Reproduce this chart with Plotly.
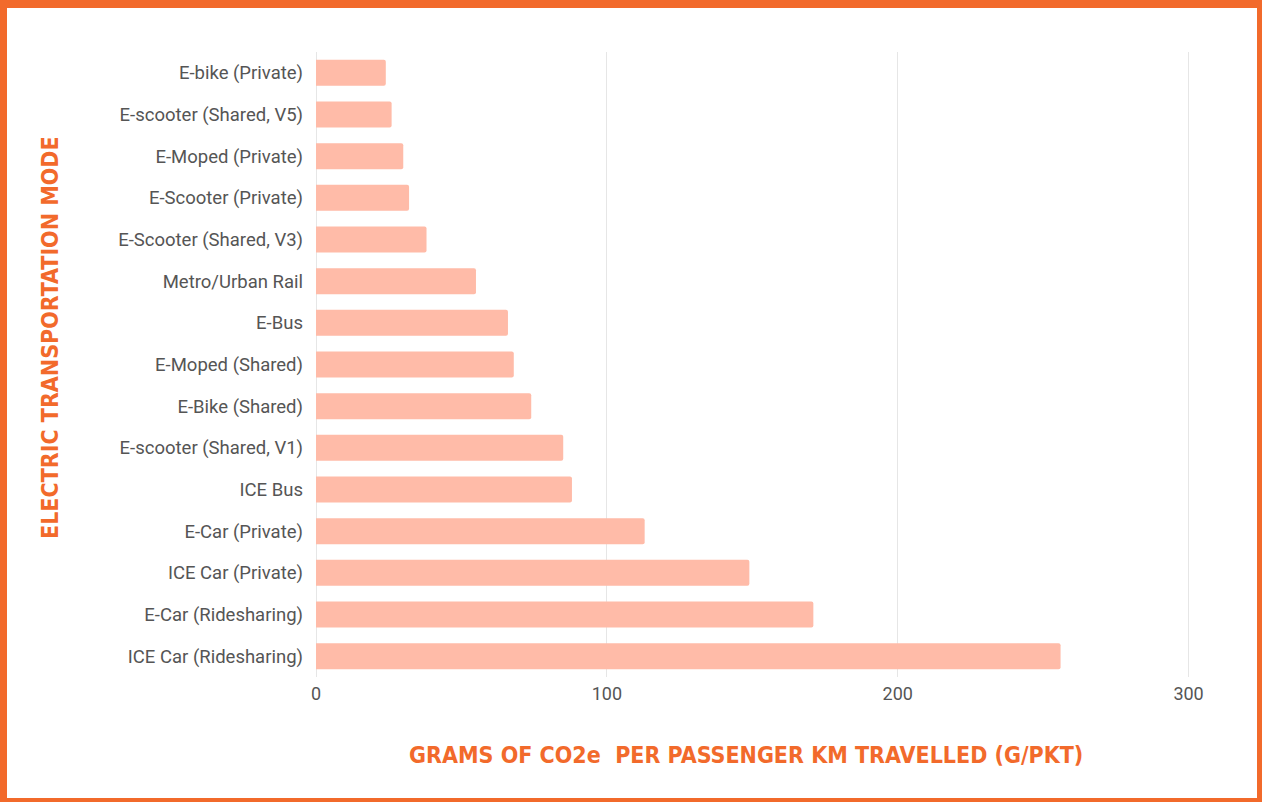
import plotly.graph_objects as go

categories = [
    "E-bike (Private)", "E-scooter (Shared, V5)", "E-Moped (Private)", "E-Scooter (Private)",
    "E-Scooter (Shared, V3)", "Metro/Urban Rail", "E-Bus", "E-Moped (Shared)",
    "E-Bike (Shared)", "E-scooter (Shared, V1)", "ICE Bus", "E-Car (Private)",
    "ICE Car (Private)", "E-Car (Ridesharing)", "ICE Car (Ridesharing)",
]
values = [24, 26, 30, 32, 38, 55, 66, 68, 74, 85, 88, 113, 149, 171, 256]
x_ticks = [0, 100, 200, 300]

ORANGE = "#F26A2B"
BAR = "#FFBBA8"

W, H = 1262, 802
ML, MR, MT, MB = 316, 72, 52, 125
PW, PH = W - ML - MR, H - MT - MB

def px(x):
    return (x - ML) / PW

def py(y):
    return (H - MB - y) / PH

fig = go.Figure(go.Bar(
    x=values, y=categories, orientation="h",
    marker=dict(color=BAR, cornerradius=2, line=dict(width=0)),
    hoverinfo="x+y",
))

TITLE_FONT = "Liberation Sans Narrow, DejaVu Sans Condensed, sans-serif"

fig.update_layout(
    width=W, height=H,
    margin=dict(l=ML, r=MR, t=MT, b=MB),
    paper_bgcolor=ORANGE, plot_bgcolor="white",
    bargap=0.375,
    showlegend=False,
    font=dict(family="Roboto, sans-serif", size=18, color="#555555"),
    xaxis=dict(range=[0, 300.5], tickvals=x_ticks, showgrid=True, gridcolor="#e6e6e6",
               gridwidth=1, zeroline=True, zerolinecolor="#e6e6e6", zerolinewidth=1,
               showline=False, ticks="", ticklabelstandoff=4,
               tickfont=dict(size=18, color="#555555")),
    yaxis=dict(categoryorder="array", categoryarray=categories, autorange="reversed",
               showgrid=False, showline=False, ticks="", ticklabelstandoff=12,
               tickfont=dict(size=18.5, color="#555555")),
    shapes=[dict(type="rect", xref="paper", yref="paper", layer="below",
                 x0=px(7), x1=px(1257), y0=py(798), y1=py(8),
                 fillcolor="white", line=dict(width=0))],
    annotations=[
        dict(text="GRAMS OF CO2e  PER PASSENGER KM TRAVELLED (G/PKT)", xref="paper", yref="paper",
             x=px(746), y=py(755), xanchor="center", yanchor="middle", showarrow=False,
             font=dict(family=TITLE_FONT, size=23, color=ORANGE, weight="bold")),
        dict(text="ELECTRIC TRANSPORTATION MODE", xref="paper", yref="paper",
             x=px(50), y=py(338), xanchor="center", yanchor="middle", showarrow=False,
             textangle=-90,
             font=dict(family=TITLE_FONT, size=23, color=ORANGE, weight="bold")),
    ],
)

fig.write_html(
    "out.html",
    config={"displayModeBar": False},
    post_script="document.body.style.margin='0';document.body.style.padding='0';"
                "document.body.style.background='" + ORANGE + "';",
)
